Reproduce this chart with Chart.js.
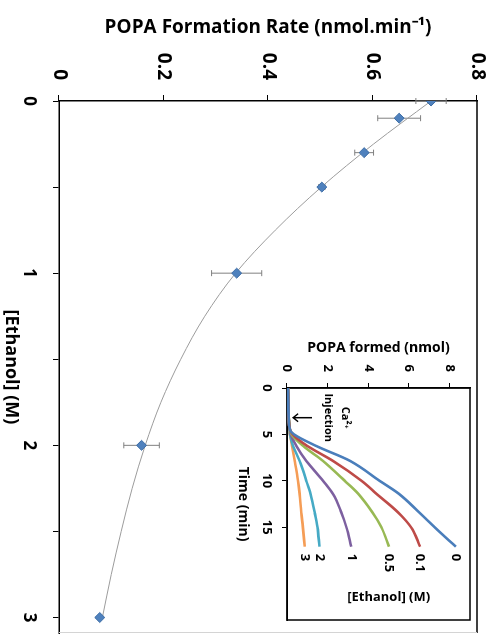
<!DOCTYPE html>
<html><head><meta charset="utf-8">
<script src="https://cdn.jsdelivr.net/npm/chart.js@4.4.1/dist/chart.umd.min.js"></script>
<style>
html,body{margin:0;padding:0;background:#fff;width:495px;height:634px;overflow:hidden;}
#wrap{position:absolute;left:0;top:0;width:634px;height:495px;transform-origin:0 0;transform:translate(495px,0) rotate(90deg);}
canvas{position:absolute;}
</style></head><body>
<div id="wrap">
<canvas id="main" width="634" height="495" style="left:0;top:0"></canvas>
<canvas id="inset" width="300" height="250" style="left:330px;top:15px"></canvas>
</div>
<script>
// ---- Main chart data ----
const ethanolConc   = [0, 0.1, 0.3, 0.5, 1, 2, 3];
const formationRate = [0.712, 0.651, 0.584, 0.503, 0.340, 0.158, 0.078];
const rateError     = [0.029, 0.041, 0.018, 0.006, 0.048, 0.034, 0];
const fitConc = [0, 0.25, 0.5, 0.75, 1, 1.25, 1.5, 1.75, 2, 2.25, 2.5, 2.75, 3];
const fitRate = [0.712, 0.602, 0.502, 0.414, 0.338, 0.279, 0.233, 0.195, 0.165, 0.140, 0.119, 0.100, 0.083];
const rateTicks = [0, 0.2, 0.4, 0.6, 0.8];
const concTickMarks = [0, 0.5, 1, 1.5, 2, 2.5, 3];
const concTicks = [0, 1, 2, 3];

// ---- Inset data ----
const timeMin = [0, 3, 4.5, 5, 6.25, 7.86, 10, 11.4, 13.4, 15, 17.1];
const formed0   = [0.05, 0.08, 0.15, 0.35, 1.44, 3.10, 4.55, 5.50, 6.50, 7.26, 8.30];
const formed01  = [0.05, 0.08, 0.15, 0.28, 1.00, 2.26, 3.66, 4.40, 5.46, 6.10, 6.55];
const formed05  = [0.05, 0.08, 0.15, 0.22, 0.80, 1.77, 2.84, 3.50, 4.20, 4.64, 5.02];
const formed1   = [0.05, 0.08, 0.15, 0.18, 0.46, 0.95, 1.77, 2.26, 2.67, 2.92, 3.16];
const formed2   = [0.05, 0.08, 0.13, 0.15, 0.30, 0.62, 0.95, 1.15, 1.36, 1.50, 1.60];
const formed3   = [0.05, 0.08, 0.12, 0.14, 0.25, 0.38, 0.54, 0.62, 0.70, 0.78, 0.87];
const insetSeries = [formed0, formed01, formed05, formed1, formed2, formed3];
const ethanolLabels = ['0', '0.1', '0.5', '1', '2', '3'];
const seriesColors = ['#4A7EBB', '#BE4B48', '#98B954', '#7D60A0', '#46AAC5', '#F59D56'];
const timeTicks = [0, 5, 10, 15];
const formedTicks = [0, 2, 4, 6, 8];
const injectionTime = 3.2;

const FONT = "'Open Sans', sans-serif";
Chart.defaults.font.family = FONT;
Chart.defaults.color = '#000';

const noEdgePad = s => { s.paddingTop = 0; s.paddingBottom = 0; s.paddingLeft = 0; s.paddingRight = 0; };

const errorBars = {
  id: 'errorBars',
  beforeDatasetsDraw(chart) {
    const {ctx, scales: {x, y}} = chart;
    ctx.save();
    ctx.strokeStyle = '#808080';
    ctx.lineWidth = 1;
    ethanolConc.forEach((c, i) => {
      const e = rateError[i];
      if (!e) return;
      const px = x.getPixelForValue(c);
      const y1 = y.getPixelForValue(formationRate[i] - e);
      const y2 = y.getPixelForValue(formationRate[i] + e);
      ctx.beginPath();
      ctx.moveTo(px, y1); ctx.lineTo(px, y2);
      ctx.moveTo(px - 3, y1); ctx.lineTo(px + 3, y1);
      ctx.moveTo(px - 3, y2); ctx.lineTo(px + 3, y2);
      ctx.stroke();
    });
    ctx.restore();
  }
};
const mainFrame = {
  id: 'mainFrame',
  beforeDatasetsDraw(chart) {
    const {ctx, chartArea: a} = chart;
    ctx.save();
    ctx.strokeStyle = '#000'; ctx.lineWidth = 1.5;
    ctx.beginPath(); ctx.moveTo(a.left, a.top); ctx.lineTo(a.right, a.top); ctx.stroke();
    ctx.strokeStyle = '#d4d4d4'; ctx.lineWidth = 1;
    ctx.beginPath(); ctx.moveTo(a.right - 0.5, a.top); ctx.lineTo(a.right - 0.5, a.bottom); ctx.stroke();
    ctx.restore();
  }
};

new Chart(document.getElementById('main'), {
  type: 'scatter',
  data: {
    datasets: [
      { type: 'scatter', label: 'Rate', data: ethanolConc.map((c, i) => ({x: c, y: formationRate[i]})),
        pointStyle: 'rectRot', pointRadius: 5, backgroundColor: '#4F81BD', borderColor: '#3D6DA6', borderWidth: 1, order: 0 },
      { type: 'line', label: 'Fit', data: fitConc.map((c, i) => ({x: c, y: fitRate[i]})),
        borderColor: '#9c9c9c', borderWidth: 1, pointRadius: 0, cubicInterpolationMode: 'monotone', fill: false, order: 1 }
    ]
  },
  options: {
    responsive: false, animation: false, devicePixelRatio: 1,
    layout: {autoPadding: false, padding: {left: 0, top: 18, right: 1, bottom: 0}},
    plugins: {legend: {display: false}, tooltip: {enabled: false}},
    scales: {
      x: {
        type: 'linear', position: 'bottom', min: 0, max: 3.09,
        afterBuildTicks: s => { s.ticks = concTickMarks.map(v => ({value: v})); },
        afterFit: s => { s.height = 59; noEdgePad(s); },
        ticks: {autoSkip: false, maxRotation: 0, color: '#000', padding: 14,
          font: {size: 17, weight: 'bold'},
          callback: v => concTicks.includes(v) ? String(v) : ''},
        grid: {drawOnChartArea: false, drawTicks: true, tickLength: 6, color: '#000', lineWidth: 1},
        border: {display: true, color: '#000', width: 1.5},
        title: {display: true, text: '[Ethanol] (M)', color: '#000', font: {size: 18, weight: 'bold'}, padding: {top: 0, bottom: 0}}
      },
      y: {
        min: 0, max: 0.8,
        afterFit: s => { s.width = 101; noEdgePad(s); },
        afterBuildTicks: s => { s.ticks = rateTicks.map(v => ({value: v})); },
        ticks: {color: '#000', padding: 15, font: {size: 19, weight: 'bold'},
          callback: v => String(+v.toFixed(1))},
        grid: {drawOnChartArea: false, tickLength: 6, color: '#000', lineWidth: 1},
        border: {display: true, color: '#000', width: 1.5},
        title: {display: true, text: 'POPA Formation Rate (nmol.min⁻¹)', color: '#000', font: {size: 19, weight: 'bold'}, padding: {top: 16, bottom: 0}}
      }
    }
  },
  plugins: [errorBars, mainFrame]
});

const insetDecor = {
  id: 'insetDecor',
  beforeDatasetsDraw(chart) {
    const {ctx, chartArea: a} = chart;
    ctx.save();
    ctx.strokeStyle = '#000'; ctx.lineWidth = 1.5;
    ctx.strokeRect(a.left, a.top, a.right - a.left, a.bottom - a.top);
    ctx.restore();
  },
  afterDatasetsDraw(chart) {
    const {ctx, scales: {x, y}} = chart;
    ctx.save();
    ctx.fillStyle = '#000';
    ctx.font = `bold 13px ${FONT}`;
    ctx.textAlign = 'left'; ctx.textBaseline = 'middle';
    chart.data.datasets.forEach((ds, i) => {
      const meta = chart.getDatasetMeta(i);
      const p = meta.data[meta.data.length - 1];
      ctx.fillText(ethanolLabels[i], p.x + 7, p.y);
    });
    ctx.save();
    ctx.translate(x.getPixelForValue(22.5), y.getPixelForValue(5.0));
    ctx.rotate(-Math.PI / 2);
    ctx.textAlign = 'center';
    ctx.fillText('[Ethanol] (M)', 0, 0);
    ctx.restore();
    // Ca2+ injection annotation
    const px = x.getPixelForValue(injectionTime);
    ctx.font = `bold 11px ${FONT}`;
    ctx.textAlign = 'center';
    ctx.fillText('Ca²⁺', px, y.getPixelForValue(2.86));
    ctx.fillText('Injection', px, y.getPixelForValue(2.0));
    const yT = y.getPixelForValue(1.23), yH = y.getPixelForValue(0.3);
    ctx.strokeStyle = '#000'; ctx.lineWidth = 1.5;
    ctx.beginPath();
    ctx.moveTo(px, yT); ctx.lineTo(px, yH);
    ctx.moveTo(px - 4, yH - 5); ctx.lineTo(px, yH); ctx.lineTo(px + 4, yH - 5);
    ctx.stroke();
    ctx.restore();
  }
};

new Chart(document.getElementById('inset'), {
  type: 'line',
  data: {
    datasets: insetSeries.map((s, i) => ({
      label: ethanolLabels[i],
      data: timeMin.map((t, k) => ({x: t, y: s[k]})),
      borderColor: seriesColors[i], borderWidth: 2.6, pointRadius: 0,
      cubicInterpolationMode: 'monotone', fill: false
    }))
  },
  options: {
    responsive: false, animation: false, devicePixelRatio: 1,
    layout: {autoPadding: false, padding: {left: 0, top: 10, right: 10, bottom: 0}},
    plugins: {legend: {display: false}, tooltip: {enabled: false}},
    scales: {
      x: {
        type: 'linear', min: 0, max: 25,
        afterBuildTicks: s => { s.ticks = timeTicks.map(v => ({value: v})); },
        afterFit: s => { s.height = 57; noEdgePad(s); },
        ticks: {autoSkip: false, maxRotation: 0, color: '#000', padding: 7, font: {size: 13, weight: 'bold'}},
        grid: {drawOnChartArea: false, tickLength: 5, color: '#000'},
        border: {display: true, color: '#000', width: 1.5},
        title: {display: true, text: 'Time (min)', color: '#000', font: {size: 14, weight: 'bold'}, padding: {top: 0, bottom: 5}}
      },
      y: {
        min: 0, max: 9,
        afterBuildTicks: s => { s.ticks = formedTicks.map(v => ({value: v})); },
        afterFit: s => { s.width = 58; noEdgePad(s); },
        ticks: {color: '#000', padding: 11, font: {size: 13, weight: 'bold'}},
        grid: {drawOnChartArea: false, tickLength: 5, color: '#000'},
        border: {display: true, color: '#000', width: 1.5},
        title: {display: true, text: 'POPA formed (nmol)', color: '#000', font: {size: 14, weight: 'bold'}, padding: {top: 10, bottom: 0}}
      }
    }
  },
  plugins: [insetDecor]
});
</script>
</body></html>
